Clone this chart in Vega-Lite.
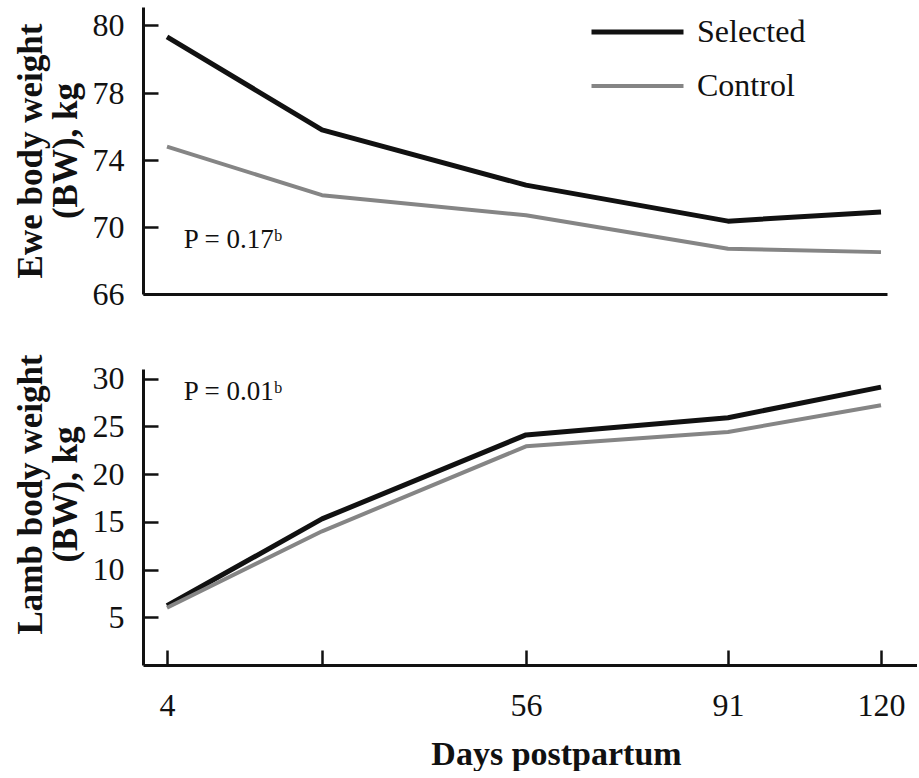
{
  "$schema": "https://vega.github.io/schema/vega-lite/v6.json",
  "background": "white",
  "padding": {"left": 13, "top": 6, "right": 0, "bottom": 0},
  "config": {
    "font": "Liberation Serif",
    "view": {"stroke": null},
    "axis": {
      "grid": false,
      "domainColor": "#111111",
      "domainWidth": 3,
      "tickColor": "#111111",
      "tickWidth": 2.5,
      "labelFont": "Liberation Serif",
      "labelFontSize": 32,
      "labelColor": "#111111",
      "titleFont": "Liberation Serif",
      "titleFontSize": 35,
      "titleFontWeight": "bold",
      "titleColor": "#111111",
      "titleLineHeight": 35,
      "titlePadding": 9
    },
    "text": {"font": "Liberation Serif", "color": "#111111"}
  },
  "datasets": {
    "ewe": [
      {"day": 4, "group": "Selected", "weight": 79.65},
      {"day": 28, "group": "Selected", "weight": 75.8},
      {"day": 56, "group": "Selected", "weight": 72.5},
      {"day": 91, "group": "Selected", "weight": 70.35},
      {"day": 120, "group": "Selected", "weight": 70.9},
      {"day": 4, "group": "Control", "weight": 74.8},
      {"day": 28, "group": "Control", "weight": 71.9},
      {"day": 56, "group": "Control", "weight": 70.7},
      {"day": 91, "group": "Control", "weight": 68.7},
      {"day": 120, "group": "Control", "weight": 68.5}
    ],
    "lamb": [
      {"day": 4, "group": "Selected", "weight": 6.2},
      {"day": 28, "group": "Selected", "weight": 15.3},
      {"day": 56, "group": "Selected", "weight": 24.1},
      {"day": 91, "group": "Selected", "weight": 25.9},
      {"day": 120, "group": "Selected", "weight": 29.1},
      {"day": 4, "group": "Control", "weight": 6.0},
      {"day": 28, "group": "Control", "weight": 14.0},
      {"day": 56, "group": "Control", "weight": 22.9},
      {"day": 91, "group": "Control", "weight": 24.4},
      {"day": 120, "group": "Control", "weight": 27.2}
    ],
    "eweNote": [{"day": 6.6, "weight": 69.2, "label": "P = 0.17ᵇ"}],
    "lambNote": [{"day": 6.6, "weight": 28.6, "label": "P = 0.01ᵇ"}]
  },
  "spacing": 43,
  "resolve": {"scale": {"x": "independent", "y": "independent", "color": "independent", "strokeWidth": "independent"}},
  "vconcat": [
    {
      "width": 744,
      "height": 287,
      "layer": [
        {
          "data": {"name": "ewe"},
          "mark": {"type": "line", "strokeCap": "butt", "strokeJoin": "round"},
          "encoding": {
            "x": {
              "field": "day", "type": "quantitative",
              "scale": {"domain": [0.28, 4, 28, 56, 91, 120, 121.1], "range": [0, 24, 179, 383, 585, 738, 744], "nice": false, "zero": false},
              "axis": {"ticks": false, "labels": false, "title": null}
            },
            "y": {
              "field": "weight", "type": "quantitative",
              "scale": {"domain": [66, 78, 80, 80.53], "range": [287, 86, 18, 0], "nice": false, "zero": false},
              "axis": {"values": [66, 70, 74, 78, 80], "tickSize": -15, "labelPadding": 34, "title": ["Ewe body weight", "(BW), kg"]}
            },
            "color": {
              "field": "group", "type": "nominal",
              "scale": {"domain": ["Selected", "Control"], "range": ["#111111", "#858585"]},
              "legend": {
                "orient": "none", "legendX": 446, "legendY": -1, "title": null,
                "symbolType": "stroke", "symbolSize": 8464, "symbolStrokeWidth": 4.5,
                "clipHeight": 52, "rowPadding": 2, "padding": 0,
                "labelFont": "Liberation Serif", "labelFontSize": 32, "labelColor": "#111111", "labelOffset": 11
              }
            },
            "strokeWidth": {
              "field": "group", "type": "nominal",
              "scale": {"domain": ["Selected", "Control"], "range": [5, 4]},
              "legend": null
            }
          }
        },
        {
          "data": {"name": "eweNote"},
          "mark": {"type": "text", "align": "left", "baseline": "middle", "fontSize": 27},
          "encoding": {
            "x": {"field": "day", "type": "quantitative"},
            "y": {"field": "weight", "type": "quantitative"},
            "text": {"field": "label"}
          }
        }
      ]
    },
    {
      "width": 774,
      "height": 296,
      "layer": [
        {
          "data": {"name": "lamb"},
          "mark": {"type": "line", "strokeCap": "butt", "strokeJoin": "round"},
          "encoding": {
            "x": {
              "field": "day", "type": "quantitative",
              "scale": {"domain": [0.28, 4, 28, 56, 91, 120, 126.8], "range": [0, 24, 179, 383, 585, 738, 774], "nice": false, "zero": false},
              "axis": {
                "values": [4, 28, 56, 91, 120], "tickSize": -15, "labelPadding": 40,
                "labelExpr": "datum.value == 28 ? '' : datum.label",
                "title": "Days postpartum", "titleFontSize": 34, "titleX": 413, "titleY": 99, "titleBaseline": "alphabetic"
              }
            },
            "y": {
              "field": "weight", "type": "quantitative",
              "scale": {"domain": [0, 31], "nice": false, "zero": false},
              "axis": {"values": [5, 10, 15, 20, 25, 30], "tickSize": -15, "labelPadding": 34, "title": ["Lamb body weight", "(BW), kg"], "titleY": 125}
            },
            "color": {
              "field": "group", "type": "nominal",
              "scale": {"domain": ["Selected", "Control"], "range": ["#111111", "#858585"]},
              "legend": null
            },
            "strokeWidth": {
              "field": "group", "type": "nominal",
              "scale": {"domain": ["Selected", "Control"], "range": [5, 4]},
              "legend": null
            }
          }
        },
        {
          "data": {"name": "lambNote"},
          "mark": {"type": "text", "align": "left", "baseline": "middle", "fontSize": 27},
          "encoding": {
            "x": {"field": "day", "type": "quantitative"},
            "y": {"field": "weight", "type": "quantitative"},
            "text": {"field": "label"}
          }
        }
      ]
    }
  ]
}
